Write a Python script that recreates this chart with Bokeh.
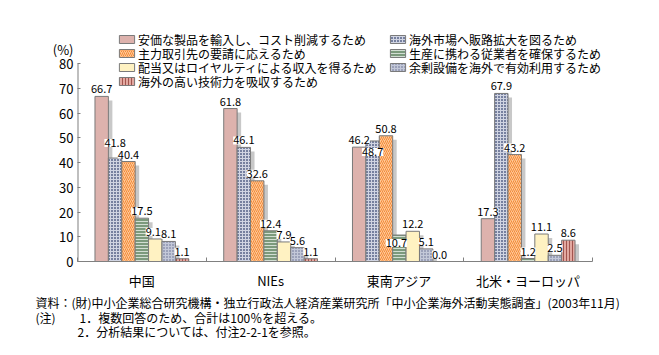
from bokeh.plotting import figure
from bokeh.models import (ColumnDataSource, Range1d, FixedTicker, LabelSet,
                          Legend, LegendItem, Title)
from bokeh.core.properties import value
from bokeh.embed import file_html
from bokeh.resources import INLINE

# ---------------- data ----------------
categories = ["中国", "NIEs", "東南アジア", "北米・ヨーロッパ"]
series_names = [
    "安価な製品を輸入し、コスト削減するため",
    "海外市場へ販路拡大を図るため",
    "主力取引先の要請に応えるため",
    "生産に携わる従業者を確保するため",
    "配当又はロイヤルティによる収入を得るため",
    "余剰設備を海外で有効利用するため",
    "海外の高い技術力を吸収するため",
]
s_import_cost = [66.7, 61.8, 46.2, 17.3]
s_market = [41.8, 46.1, 48.7, 67.9]
s_client = [40.4, 32.6, 50.8, 43.2]
s_workers = [17.5, 12.4, 10.7, 1.2]
s_royalty = [9.1, 7.9, 12.2, 11.1]
s_equipment = [8.1, 5.6, 5.1, 2.5]
s_tech = [1.1, 1.1, 0.0, 8.6]
series_values = [s_import_cost, s_market, s_client, s_workers, s_royalty, s_equipment, s_tech]
y_ticks = [0, 10, 20, 30, 40, 50, 60, 70, 80]
unit_label = "(%)"
notes = [
    "資料：(財)中小企業総合研究機構・独立行政法人経済産業研究所「中小企業海外活動実態調査」(2003年11月)",
    "(注)　　1．複数回答のため、合計は100％を超える。",
    "　　　\u20022．分析結果については、付注2-2-1を参照。",
]

FONT = "Noto Sans CJK JP"

styles = [
    dict(fill_color="#DDB2AD"),
    dict(fill_color="#76809F", hatch_pattern="+", hatch_color="#D0D4E2", hatch_scale=3.0, hatch_weight=1.0),
    dict(fill_color="#FFC896", hatch_pattern="/", hatch_color="#F28A3A", hatch_scale=4.0, hatch_weight=1.0),
    dict(fill_color="#7C9A7C", hatch_pattern="-", hatch_color="#D2DED2", hatch_scale=3.0, hatch_weight=1.0),
    dict(fill_color="#FFF2C2"),
    dict(fill_color="#C3C8D8", hatch_pattern=".", hatch_color="#5E6688", hatch_scale=3.0, hatch_weight=1.0),
    dict(fill_color="#E2A8A0", hatch_pattern="|", hatch_color="#A2544E", hatch_scale=3.0, hatch_weight=1.0),
]

# ---------------- layout (pixels) ----------------
F_LEFT, F_TOP, F_RIGHT, F_BOTTOM = 77, 24, 635, 261
AXIS_RIGHT = 592          # where the 4th group ends
AXIS_TOP = 63             # where y = 80 sits
group_px = (AXIS_RIGHT - F_LEFT) / len(categories)
unit_px = (F_BOTTOM - AXIS_TOP) / y_ticks[-1]
x_end = (F_RIGHT - F_LEFT) / group_px
y_end = (F_BOTTOM - F_TOP) / unit_px

p = figure(frame_width=F_RIGHT - F_LEFT, frame_height=F_BOTTOM - F_TOP,
           output_backend="svg", toolbar_location=None,
           x_range=Range1d(0, x_end), y_range=Range1d(0, y_end),
           min_border_left=F_LEFT, min_border_right=20,
           min_border_top=F_TOP, min_border_bottom=0)
p.outline_line_color = None
p.xgrid.visible = False
p.ygrid.visible = False

n = len(series_names)
bw = 13.4 / group_px
dx = 4 / group_px
dy = 4 / unit_px

# shadows
for k, vals in enumerate(series_values):
    xs = [i + 0.5 + (k - (n - 1) / 2) * bw + dx for i in range(len(categories))]
    tops = [max(v - dy, 0) for v in vals]
    p.vbar(x=xs, top=tops, width=bw, bottom=0, fill_color="#C8C8C8", line_color=None)

# label nudges (pixels) where the original moved a value label
nudge_y = {(0, 1): 8, (2, 1): -18, (2, 3): -15}
nudge_x = {(0, 4): -2, (2, 3): -3}

renderers = []
for k, vals in enumerate(series_values):
    xs = [i + 0.5 + (k - (n - 1) / 2) * bw for i in range(len(categories))]
    src = ColumnDataSource(dict(x=xs, top=vals, lab=["%.1f" % v for v in vals],
                                xo=[nudge_x.get((i, k), 0) for i in range(len(vals))],
                                yo=[7 + nudge_y.get((i, k), 0) for i in range(len(vals))]))
    r = p.vbar(x="x", top="top", width=bw, bottom=0, source=src,
               line_color="#7A7A7A", line_width=1, **styles[k])
    renderers.append(r)
    p.add_layout(LabelSet(x="x", y="top", text="lab", source=src, x_offset="xo", y_offset="yo",
                          text_align="center", text_baseline="middle",
                          text_font=value(FONT), text_font_size="11px", text_color="black",
                          background_fill_color="white"))

# y axis line (only up to 80)
p.segment(x0=[0], y0=[y_ticks[0]], x1=[0], y1=[y_ticks[-1]], line_color="#808080", line_width=2)

unit_pos = (F_BOTTOM - 49) / unit_px
p.yaxis.ticker = FixedTicker(ticks=y_ticks + [unit_pos], minor_ticks=y_ticks)
p.yaxis.major_label_overrides = {unit_pos: unit_label}
p.yaxis.axis_line_color = None
p.yaxis.major_tick_line_color = None
p.yaxis.major_tick_in = 0
p.yaxis.major_tick_out = 0
p.yaxis.minor_tick_line_color = "#808080"
p.yaxis.minor_tick_in = 3
p.yaxis.minor_tick_out = 0
p.yaxis.major_label_text_font = FONT
p.yaxis.major_label_text_font_size = "13px"
p.yaxis.major_label_text_color = "black"
p.yaxis.major_label_standoff = 4

p.xaxis.bounds = (0, len(categories))
p.xaxis.ticker = FixedTicker(ticks=[i + 0.5 for i in range(len(categories))],
                             minor_ticks=list(range(len(categories) + 1)))
p.xaxis.major_label_overrides = {i + 0.5: c for i, c in enumerate(categories)}
p.xaxis.axis_line_color = "#808080"
p.xaxis.major_tick_line_color = None
p.xaxis.minor_tick_line_color = "#808080"
p.xaxis.minor_tick_in = 4
p.xaxis.minor_tick_out = 0
p.xaxis.major_label_text_font = FONT
p.xaxis.major_label_text_font_size = "13px"
p.xaxis.major_label_text_color = "black"
p.xaxis.major_label_standoff = 3

# legend: one small legend per entry, two columns as in the original
ROW_H = 17
legend_slots = [(0, 117, 39), (2, 117, 53), (4, 117, 67), (6, 117, 81),
                (1, 388, 39), (3, 388, 53), (5, 388, 67)]
for idx, lx, cy in legend_slots:
    lg = Legend(items=[LegendItem(label=series_names[idx], renderers=[renderers[idx]])],
                location=(lx - F_LEFT, F_BOTTOM - (cy + ROW_H / 2)), orientation="vertical",
                label_text_font=FONT, label_text_font_size="12px", label_text_color="black",
                glyph_width=19, glyph_height=10, label_height=ROW_H, label_standoff=2,
                spacing=0, padding=0, margin=0, border_line_color=None,
                background_fill_alpha=0)
    p.add_layout(lg, "center")

# notes below the chart
t = Title(text="\n".join(notes), align="left", offset=35 - F_LEFT, standoff=0,
          text_font=FONT, text_font_size="12px", text_font_style="normal",
          text_color="black", text_line_height=0.86)
p.add_layout(t, "below")

open("out.html", "w").write(file_html(p, INLINE))
